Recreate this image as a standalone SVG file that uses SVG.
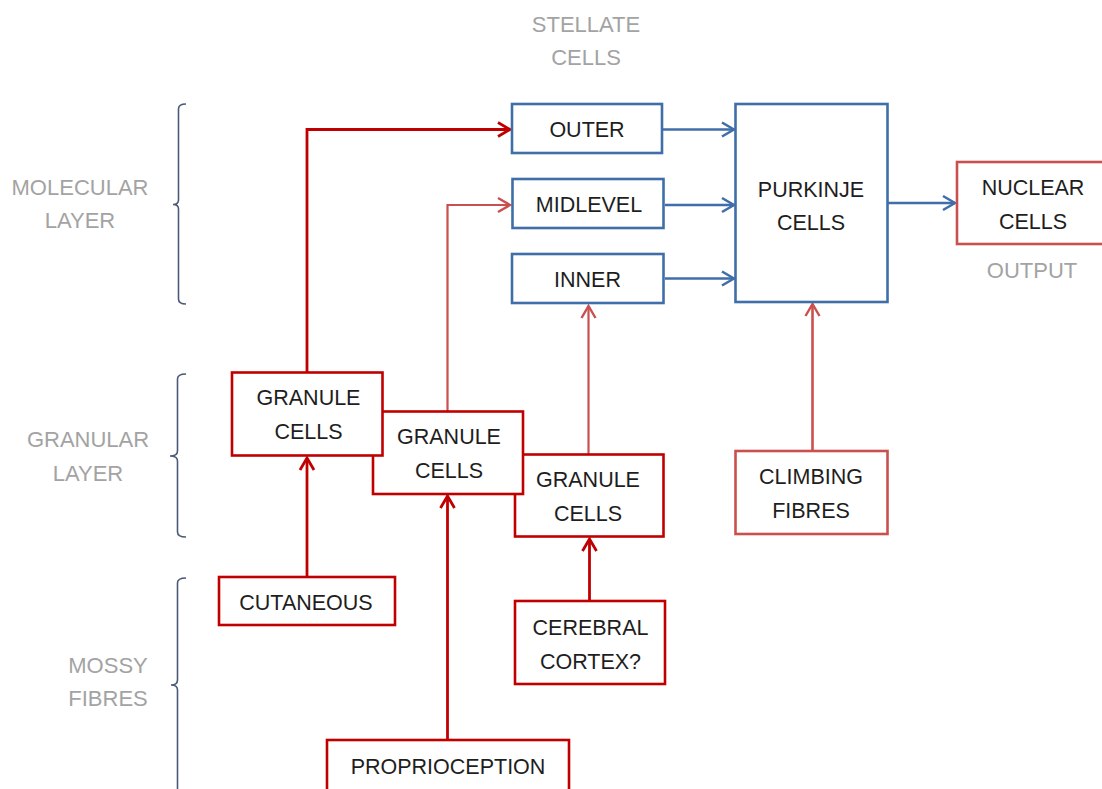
<svg xmlns="http://www.w3.org/2000/svg" width="1102" height="789" viewBox="0 0 1102 789">
<style>
text{font-family:"Liberation Sans",Arial,sans-serif;font-size:21.5px;text-anchor:middle;fill:#1e1e1e}
.lbl{fill:#a3a3a3;font-size:22px}
.bx{fill:#fff;stroke-width:2.6}
.blue{stroke:#3f6ea8}
.dred{stroke:#c00000}
.lred{stroke:#c9504f}
.br{fill:none;stroke:#4a5a78;stroke-width:1.6}
.ln{fill:none}
</style>
<defs>
<marker id="ab" markerUnits="userSpaceOnUse" viewBox="-16 -10 18 20" refX="0" refY="0" markerWidth="18" markerHeight="20" orient="auto">
<path d="M-12,-7 L0,0 L-12,7" fill="none" stroke="#3f6ea8" stroke-width="2.6"/>
</marker>
<marker id="ad" markerUnits="userSpaceOnUse" viewBox="-16 -10 18 20" refX="0" refY="0" markerWidth="18" markerHeight="20" orient="auto">
<path d="M-12,-7 L0,0 L-12,7" fill="none" stroke="#c00000" stroke-width="2.8"/>
</marker>
<marker id="al" markerUnits="userSpaceOnUse" viewBox="-16 -10 18 20" refX="0" refY="0" markerWidth="18" markerHeight="20" orient="auto">
<path d="M-12,-7 L0,0 L-12,7" fill="none" stroke="#c9504f" stroke-width="2.4"/>
</marker>
</defs>
<rect width="1102" height="789" fill="#fff"/>

<g id="labels">
<text class="lbl" x="586" y="32">STELLATE</text>
<text class="lbl" x="586" y="65">CELLS</text>
<text class="lbl" x="80" y="195">MOLECULAR</text>
<text class="lbl" x="80" y="228">LAYER</text>
<text class="lbl" x="88" y="447">GRANULAR</text>
<text class="lbl" x="88" y="481">LAYER</text>
<text class="lbl" x="108" y="673">MOSSY</text>
<text class="lbl" x="108" y="706">FIBRES</text>
<text class="lbl" x="1032" y="278">OUTPUT</text>
</g>

<g id="brackets">
<path class="br" d="M186,104 Q178.5,104 178.5,109 L178.5,200 Q178.5,204.5 173,204.5 Q178.5,204.5 178.5,209 L178.5,299 Q178.5,304 186,304"/>
<path class="br" d="M186,374 Q177.5,374 177.5,379 L177.5,451 Q177.5,456 170,456 Q177.5,456 177.5,461 L177.5,532 Q177.5,537 186,537"/>
<path class="br" d="M186,578 Q177.5,578 177.5,583 L177.5,680 Q177.5,685 171,685 Q177.5,685 177.5,690 L177.5,795"/>
</g>

<g id="connectors">
<path class="ln dred" stroke-width="2.8" d="M307,372 L307,129.5 L510,129.5" marker-end="url(#ad)"/>
<path class="ln lred" stroke-width="2.2" d="M447.5,411 L447.5,205 L510,205" marker-end="url(#al)"/>
<path class="ln lred" stroke-width="2.2" d="M588.5,454 L588.5,306" marker-end="url(#al)"/>
<path class="ln blue" stroke-width="2.6" d="M663,129.5 L734,129.5" marker-end="url(#ab)"/>
<path class="ln blue" stroke-width="2.6" d="M665,205 L734,205" marker-end="url(#ab)"/>
<path class="ln blue" stroke-width="2.6" d="M665,278.5 L734,278.5" marker-end="url(#ab)"/>
<path class="ln blue" stroke-width="2.6" d="M888,203 L955,203" marker-end="url(#ab)"/>
<path class="ln lred" stroke-width="2.6" d="M812.5,451 L812.5,304" marker-end="url(#al)"/>
<path class="ln dred" stroke-width="2.8" d="M307,577 L307,458" marker-end="url(#ad)"/>
<path class="ln dred" stroke-width="2.8" d="M447.5,740 L447.5,496" marker-end="url(#ad)"/>
<path class="ln dred" stroke-width="2.8" d="M589.5,601 L589.5,539" marker-end="url(#ad)"/>
</g>

<g id="outer">
<rect class="bx blue" x="512" y="104" width="150" height="49"/>
<text x="587" y="136.5">OUTER</text>
</g>
<g id="midlevel">
<rect class="bx blue" x="512.5" y="179" width="151" height="49"/>
<text x="589" y="212">MIDLEVEL</text>
</g>
<g id="inner">
<rect class="bx blue" x="512" y="254" width="151.5" height="49"/>
<text x="587.5" y="287">INNER</text>
</g>
<g id="purkinje">
<rect class="bx blue" x="735.5" y="104" width="152" height="198"/>
<text x="811" y="197">PURKINJE</text>
<text x="811" y="229.5">CELLS</text>
</g>
<g id="nuclear">
<rect class="bx lred" x="957" y="162" width="150" height="82"/>
<text x="1033" y="194.5">NUCLEAR</text>
<text x="1033" y="228.5">CELLS</text>
</g>
<g id="climbing">
<rect class="bx lred" x="735.5" y="451" width="152" height="83"/>
<text x="811" y="483.5">CLIMBING</text>
<text x="811" y="517.5">FIBRES</text>
</g>
<g id="granule3">
<rect class="bx dred" x="515" y="454.5" width="148.5" height="82"/>
<text x="588" y="487">GRANULE</text>
<text x="588" y="521">CELLS</text>
</g>
<g id="granule2">
<rect class="bx dred" x="373" y="411.5" width="150" height="82.5"/>
<text x="449" y="443.5">GRANULE</text>
<text x="449" y="477.5">CELLS</text>
</g>
<g id="granule1">
<rect class="bx dred" x="232" y="372.5" width="150.5" height="83"/>
<text x="308.5" y="405">GRANULE</text>
<text x="308.5" y="439">CELLS</text>
</g>
<g id="cutaneous">
<rect class="bx dred" x="219" y="577" width="176" height="48"/>
<text x="306" y="610">CUTANEOUS</text>
</g>
<g id="cerebral">
<rect class="bx dred" x="515" y="601" width="150" height="83"/>
<text x="590.5" y="635">CEREBRAL</text>
<text x="590.5" y="668.5">CORTEX?</text>
</g>
<g id="proprioception">
<rect class="bx dred" x="327" y="740" width="242" height="60"/>
<text x="448" y="773.5">PROPRIOCEPTION</text>
</g>
</svg>
